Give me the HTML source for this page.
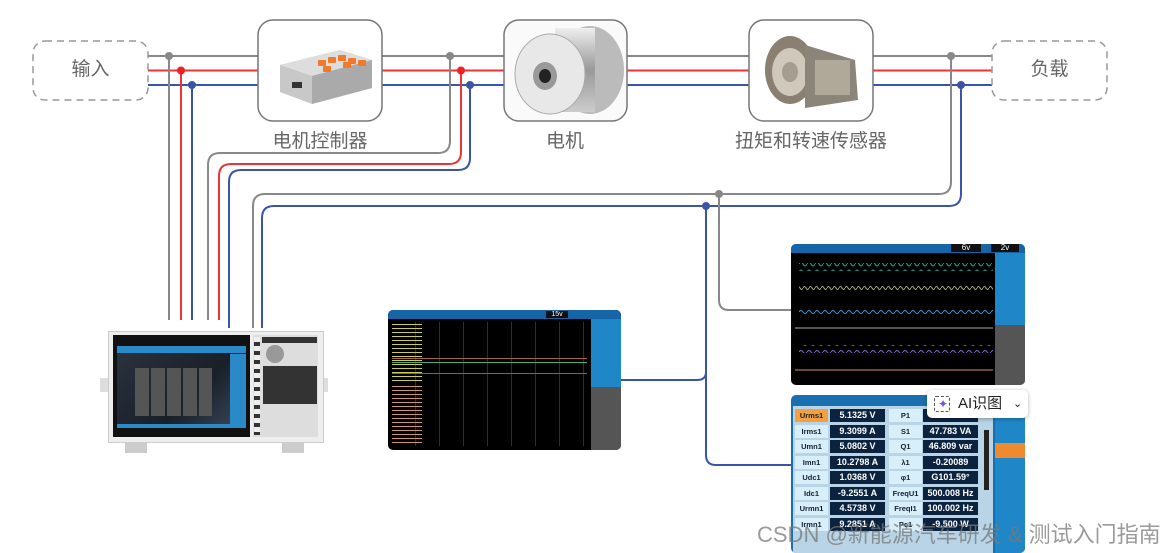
<!DOCTYPE html>
<html><head><meta charset="utf-8"><style>
body{margin:0;width:1164px;height:553px;background:#fff;position:relative;overflow:hidden;font-family:"Liberation Sans","Noto Sans CJK SC",sans-serif}
.abs{position:absolute}
.lbl{position:absolute;color:#666;font-size:19px;text-align:center;font-family:"Liberation Sans","Noto Sans CJK SC",sans-serif}
.tbl div{position:absolute;font-size:7.5px;font-weight:bold;text-align:center;line-height:13px;height:13px}
.k{background:#d8eef8;color:#123}
.v{background:#0c2340;color:#fff;font-size:9px!important}
</style></head><body>
<svg class="abs" style="left:0;top:0" width="1164" height="553">
<defs>
<pattern id="sw" width="8" height="8" patternUnits="userSpaceOnUse"><path d="M0 4 Q2 0 4 4 T8 4" fill="none" stroke="#2a9" stroke-width="1"/></pattern>
<pattern id="sy" width="6" height="8" patternUnits="userSpaceOnUse"><path d="M0 4 Q1.5 1 3 4 T6 4" fill="none" stroke="#aa8" stroke-width="1"/></pattern>
<pattern id="sb" width="8" height="8" patternUnits="userSpaceOnUse"><path d="M0 4 Q2 1 4 4 T8 4" fill="none" stroke="#39d" stroke-width="1"/></pattern>
<pattern id="sp" width="8" height="8" patternUnits="userSpaceOnUse"><path d="M0 4 Q2 1 4 4 T8 4" fill="none" stroke="#86c" stroke-width="1"/></pattern>
<linearGradient id="gm" x1="0" y1="0" x2="0" y2="1"><stop offset="0" stop-color="#eee"/><stop offset=".5" stop-color="#999"/><stop offset="1" stop-color="#ccc"/></linearGradient>
</defs>
<g fill="none" stroke-width="2">
<path d="M148 56H258M382 56H504M627 56H749M873 56H992" stroke="#888"/>
<path d="M148 70.5H258M382 70.5H504M627 70.5H749M873 70.5H992" stroke="#e33"/>
<path d="M148 85H258M382 85H504M627 85H749M873 85H992" stroke="#3a55a8"/>
<path d="M169 56V320" stroke="#888"/>
<path d="M181 70V320" stroke="#e33"/>
<path d="M192 85V320" stroke="#3a55a8"/>
<path d="M450 56V141Q450 153 438 153H220Q208 153 208 165V320" stroke="#888"/>
<path d="M461 70V152Q461 164 449 164H231Q219 164 219 176V320" stroke="#e33"/>
<path d="M470 85V158Q470 170 458 170H241Q229 170 229 182V328" stroke="#3a55a8"/>
<path d="M951 56V182Q951 194 939 194H265Q253 194 253 206V328" stroke="#888"/>
<path d="M961 85V194Q961 206 949 206H274Q262 206 262 218V328" stroke="#3a55a8"/>
<path d="M719 194V300Q719 310 729 310H791" stroke="#888"/>
<path d="M706 206V455Q706 465 716 465H791" stroke="#3a55a8"/>
<path d="M621 380H697Q706 380 706 372" stroke="#3a55a8"/>
</g>
<g>
<circle cx="169" cy="56" r="4" fill="#888"/><circle cx="181" cy="70.5" r="4" fill="#e22"/><circle cx="192" cy="85" r="4" fill="#3a55a8"/>
<circle cx="450" cy="56" r="4" fill="#888"/><circle cx="461" cy="70.5" r="4" fill="#e22"/><circle cx="470" cy="85" r="4" fill="#3a55a8"/>
<circle cx="951" cy="56" r="4" fill="#888"/><circle cx="961" cy="85" r="4" fill="#3a55a8"/>
<circle cx="719" cy="194" r="4" fill="#888"/><circle cx="706" cy="206" r="4" fill="#3a55a8"/>
</g>
<rect x="33" y="41" width="115" height="59" rx="12" fill="#fff" stroke="#999" stroke-width="1.5" stroke-dasharray="7 5"/>
<rect x="992" y="41" width="115" height="59" rx="12" fill="#fff" stroke="#999" stroke-width="1.5" stroke-dasharray="7 5"/>
<rect x="258" y="20" width="124" height="101" rx="15" fill="#fff" stroke="#777" stroke-width="1.5"/>
<rect x="504" y="20" width="123" height="101" rx="15" fill="#fafafa" stroke="#777" stroke-width="1.5"/>
<rect x="749" y="20" width="124" height="101" rx="15" fill="#fff" stroke="#777" stroke-width="1.5"/>
<polygon points="280,65 340,50 372,60 372,88 312,104 280,92" fill="#c8c8c8"/>
<polygon points="280,65 340,50 372,60 312,76" fill="#ddd"/>
<polygon points="312,76 372,60 372,88 312,104" fill="#aaa"/>
<g fill="#f07a2a"><rect x="318" y="60" width="8" height="6" rx="1"/><rect x="328" y="57" width="8" height="6" rx="1"/><rect x="338" y="55" width="8" height="6" rx="1"/><rect x="348" y="58" width="8" height="6" rx="1"/><rect x="358" y="60" width="8" height="6" rx="1"/><rect x="323" y="66" width="8" height="6" rx="1"/><rect x="343" y="62" width="8" height="6" rx="1"/></g>
<rect x="292" y="82" width="10" height="6" fill="#333"/>
<ellipse cx="590" cy="70" rx="34" ry="44" fill="#bbb"/>
<rect x="555" y="28" width="40" height="84" fill="url(#gm)"/>
<ellipse cx="550" cy="74" rx="35" ry="40" fill="#e8e8e8" stroke="#aaa"/>
<ellipse cx="545" cy="76" rx="12" ry="14" fill="#999"/>
<ellipse cx="545" cy="76" rx="6" ry="7" fill="#222"/>
<ellipse cx="790" cy="70" rx="25" ry="34" fill="#8a7f70"/>
<ellipse cx="790" cy="72" rx="18" ry="24" fill="#cfc8bb"/>
<ellipse cx="790" cy="72" rx="8" ry="10" fill="#a59d90"/>
<polygon points="805,45 855,60 858,100 805,108" fill="#8b8478"/>
<rect x="815" y="60" width="35" height="35" fill="#b0a898"/>
</svg>
<div class="lbl" style="left:33px;top:58px;width:115px;line-height:24px">输入</div>
<div class="lbl" style="left:992px;top:58px;width:115px;line-height:24px">负载</div>
<div class="lbl" style="left:250px;top:126px;width:140px">电机控制器</div>
<div class="lbl" style="left:505px;top:126px;width:120px">电机</div>
<div class="lbl" style="left:720px;top:126px;width:182px">扭矩和转速传感器</div>

<div class="abs" style="left:100px;top:378px;width:10px;height:14px;background:#ddd"></div>
<div class="abs" style="left:318px;top:378px;width:10px;height:14px;background:#ddd"></div>
<div class="abs" style="left:125px;top:440px;width:22px;height:13px;background:#ccc"></div>
<div class="abs" style="left:282px;top:440px;width:22px;height:13px;background:#ccc"></div>
<div class="abs" style="left:108px;top:331px;width:214px;height:110px;background:#eee;border:1px solid #ccc"></div>
<div class="abs" style="left:113px;top:335px;width:137px;height:102px;background:#111"></div>
<div class="abs" style="left:117px;top:346px;width:129px;height:80px;background:linear-gradient(135deg,#2a3340,#1a1f28 60%,#3a4a60)"></div>
<div class="abs" style="left:117px;top:346px;width:129px;height:7px;background:#2a8ac8"></div>
<div class="abs" style="left:117px;top:424px;width:129px;height:4px;background:#2a8ac8"></div>
<div class="abs" style="left:230px;top:354px;width:16px;height:70px;background:#2a8ac8"></div>
<div class="abs" style="left:135px;top:368px;width:77px;height:48px;background:repeating-linear-gradient(90deg,#555 0 14px,transparent 14px 16px)"></div>
<div class="abs" style="left:253px;top:335px;width:65px;height:102px;background:#ddd"></div>
<div class="abs" style="left:262px;top:337px;width:55px;height:6px;background:#333"></div>
<div class="abs" style="left:266px;top:345px;width:18px;height:18px;border-radius:50%;background:#999"></div>
<div class="abs" style="left:263px;top:366px;width:54px;height:38px;background:#333"></div>
<div class="abs" style="left:254px;top:337px;width:6px;height:98px;background:repeating-linear-gradient(#eee 0 5px,#333 5px 9px)"></div>

<div class="abs" style="left:388px;top:310px;width:233px;height:140px;background:#000;border-radius:5px;overflow:hidden">
 <div class="abs" style="left:0;top:0;width:233px;height:9px;background:#1565a8"></div>
 <div class="abs" style="left:158px;top:1px;width:22px;height:7px;background:#111;color:#fff;font-size:7px;line-height:7px;text-align:center">15v</div>
 <div class="abs" style="left:203px;top:9px;width:30px;height:131px;background:#555"></div>
 <div class="abs" style="left:203px;top:9px;width:30px;height:68px;background:#1f86c8"></div>
 <div class="abs" style="left:4px;top:12px;width:195px;height:124px;background:repeating-linear-gradient(90deg,transparent 0 23px,#233 23px 24px)"></div>
 <div class="abs" style="left:4px;top:14px;width:30px;height:58px;background:repeating-linear-gradient(#cc5 0 1px,transparent 1px 4px)"></div>
 <div class="abs" style="left:4px;top:76px;width:30px;height:60px;background:repeating-linear-gradient(#c96 0 1px,transparent 1px 4px)"></div>
 <div class="abs" style="left:4px;top:48px;width:195px;height:1px;background:#a64"></div>
 <div class="abs" style="left:4px;top:52px;width:195px;height:1px;background:#4a8"></div>
 <div class="abs" style="left:4px;top:63px;width:195px;height:1px;background:#386"></div>
</div>

<div class="abs" style="left:791px;top:244px;width:234px;height:141px;background:#000;border-radius:5px;overflow:hidden">
 <div class="abs" style="left:0;top:0;width:234px;height:9px;background:#1565a8"></div>
 <div class="abs" style="left:160px;top:0;width:30px;height:8px;background:#111;color:#fff;font-size:8px;line-height:8px;text-align:center">6v</div>
 <div class="abs" style="left:200px;top:0;width:28px;height:8px;background:#111;color:#fff;font-size:8px;line-height:8px;text-align:center">2v</div>
 <div class="abs" style="left:204px;top:9px;width:30px;height:132px;background:#555"></div>
 <div class="abs" style="left:204px;top:9px;width:30px;height:72px;background:#1f86c8"></div>
 <svg class="abs" style="left:0;top:0" width="204" height="141">
  <rect x="8" y="19" width="194" height="8" fill="url(#sw)"/>
  <rect x="8" y="40" width="194" height="8" fill="url(#sy)"/>
  <rect x="8" y="62" width="194" height="8" fill="url(#sb)"/>
  <line x1="4" y1="84" x2="202" y2="84" stroke="#aaa"/>
  <rect x="8" y="101" width="194" height="8" fill="url(#sp)"/>
  <line x1="4" y1="126" x2="202" y2="126" stroke="#c96"/>
 </svg>
</div>

<div class="abs" style="left:791px;top:395px;width:234px;height:158px;background:#1a6fb0;border-radius:5px;overflow:hidden">
 <div class="abs" style="left:2px;top:11px;width:200px;height:147px;background:#b8d4e6"></div>
 <div class="abs" style="left:204px;top:11px;width:30px;height:147px;background:#1f86c8"></div>
 <div class="abs" style="left:204px;top:48px;width:30px;height:15px;background:#f08a30"></div>
 <div class="abs" style="left:193px;top:35px;width:5px;height:60px;background:#222"></div>
 <div class="tbl">
  <div class="k" style="left:4px;top:14px;width:33px;background:#f5a040">Urms1</div><div class="v" style="left:39px;top:14px;width:55px">5.1325 V</div><div class="k" style="left:98px;top:14px;width:33px">P1</div><div class="v" style="left:132px;top:14px;width:55px"></div>
  <div class="k" style="left:4px;top:29.5px;width:33px">Irms1</div><div class="v" style="left:39px;top:29.5px;width:55px">9.3099 A</div><div class="k" style="left:98px;top:29.5px;width:33px">S1</div><div class="v" style="left:132px;top:29.5px;width:55px">47.783 VA</div>
  <div class="k" style="left:4px;top:45px;width:33px">Umn1</div><div class="v" style="left:39px;top:45px;width:55px">5.0802 V</div><div class="k" style="left:98px;top:45px;width:33px">Q1</div><div class="v" style="left:132px;top:45px;width:55px">46.809 var</div>
  <div class="k" style="left:4px;top:60.5px;width:33px">Imn1</div><div class="v" style="left:39px;top:60.5px;width:55px">10.2798 A</div><div class="k" style="left:98px;top:60.5px;width:33px">λ1</div><div class="v" style="left:132px;top:60.5px;width:55px">-0.20089</div>
  <div class="k" style="left:4px;top:76px;width:33px">Udc1</div><div class="v" style="left:39px;top:76px;width:55px">1.0368 V</div><div class="k" style="left:98px;top:76px;width:33px">φ1</div><div class="v" style="left:132px;top:76px;width:55px">G101.59°</div>
  <div class="k" style="left:4px;top:91.5px;width:33px">Idc1</div><div class="v" style="left:39px;top:91.5px;width:55px">-9.2551 A</div><div class="k" style="left:98px;top:91.5px;width:33px">FreqU1</div><div class="v" style="left:132px;top:91.5px;width:55px">500.008 Hz</div>
  <div class="k" style="left:4px;top:107px;width:33px">Urmn1</div><div class="v" style="left:39px;top:107px;width:55px">4.5738 V</div><div class="k" style="left:98px;top:107px;width:33px">FreqI1</div><div class="v" style="left:132px;top:107px;width:55px">100.002 Hz</div>
  <div class="k" style="left:4px;top:122.5px;width:33px">Irmn1</div><div class="v" style="left:39px;top:122.5px;width:55px">9.2851 A</div><div class="k" style="left:98px;top:122.5px;width:33px">Pc1</div><div class="v" style="left:132px;top:122.5px;width:55px">-9.500 W</div>
 </div>
</div>

<div class="abs" style="left:927px;top:390px;width:101px;height:28px;background:#fff;border-radius:5px;box-shadow:0 1px 4px rgba(0,0,0,.3);font-size:15px;line-height:28px;color:#222">
 <span style="position:absolute;left:7px;top:6px;width:14px;height:14px;border:1.5px dashed #555;border-radius:2px"></span>
 <span style="position:absolute;left:11px;top:0;color:#7a4ee0;font-size:12px">✦</span>
 <span style="position:absolute;left:31px">AI识图</span>
 <span style="position:absolute;left:86px;font-size:11px">⌄</span>
</div>

<div class="abs" style="left:757px;top:517px;font-size:22px;color:rgba(120,120,120,.75);white-space:nowrap">CSDN @新能源汽车研发 &amp; 测试入门指南</div>
</body></html>
